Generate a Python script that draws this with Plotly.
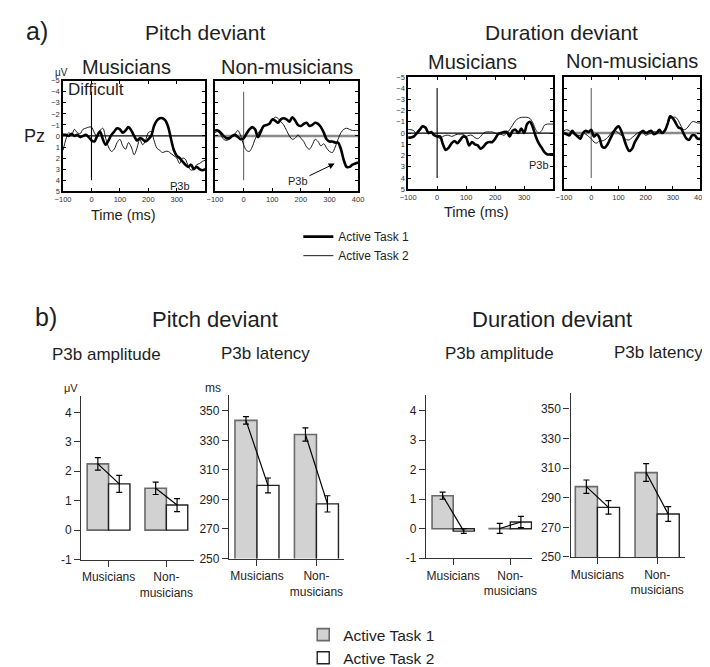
import plotly.graph_objects as go

W, H = 710, 667

# ---------------- DATA ----------------
time_ms = list(range(-100, 401, 10))

pitch_mus_task1 = [-0.1, -0.1, 0.0, -0.2, 0.0, -0.1, 0.1, 0.0, -0.1, 0.1,
                   0.4, 0.5, 0.0, -0.4, 0.3, 0.8, 0.4, -0.1, -0.4, -0.7,
                   -0.6, -0.3, -0.5, -0.8, -0.5, 0.0, 0.4, 0.2, 0.3, 0.5,
                   0.3, 0.0, -0.9, -1.4, -1.6, -1.6, -1.4, -0.8, 0.3, 1.3,
                   1.8, 2.0, 2.3, 2.6, 2.8, 2.6, 3.0, 2.8, 3.0, 3.1, 3.0]
pitch_mus_task2 = [1.3, 0.3, -0.3, -0.1, -0.6, -0.3, -0.2, -0.6, -0.7, -0.8,
                   -0.8, -0.3, 0.1, -0.5, -0.7, 0.2, 1.0, 1.4, 1.2, 0.6,
                   0.3, 0.9, 1.2, 0.6, 1.0, 1.7, 1.1, 0.3, 0.8, 0.4,
                   -0.3, -0.4, 0.4, 1.1, 1.3, 1.5, 1.4, 1.4, 1.6, 1.8,
                   2.0, 2.5, 2.0, 2.1, 2.7, 3.1, 3.0, 2.6, 2.5, 2.3, 2.2]
pitch_non_task1 = [-0.5, -0.5, -0.3, 0.0, 0.2, 0.2, 0.0, -0.1, 0.1, 0.3,
                   0.2, -0.2, -0.6, -0.8, -0.6, 0.1, -0.4, -0.9, -1.0, -1.1,
                   -1.5, -1.4, -1.2, -1.5, -1.6, -1.5, -1.3, -1.7, -1.4, -1.0,
                   -0.9, -1.1, -1.2, -0.9, -1.0, -1.2, -1.1, -0.8, -0.3, 0.3,
                   0.5, 0.5, 0.6, 0.6, 1.2, 2.2, 2.8, 2.8, 2.6, 2.5, 2.4]
pitch_non_task2 = [-0.3, -0.4, -0.1, 0.3, 0.4, 0.3, 0.1, -0.2, -0.5, 0.0,
                   0.8, 1.3, 1.4, 1.0, 0.3, -0.2, -0.6, -0.9, -1.0, -1.1,
                   -1.4, -1.7, -1.6, -1.3, -1.0, -0.5, 0.0, 0.3, 0.2, -0.1,
                   0.2, 0.5, 1.0, 1.2, 0.8, 0.3, 0.5, 0.9, 0.7, 1.1,
                   1.4, 1.5, 1.0, 0.3, -0.3, -0.6, -0.7, -0.6, -0.5, -0.5, -0.5]
dur_mus_task1 = [0.4, 0.4, 0.3, 0.0, -0.3, -0.6, -0.5, 0.0, -0.1, 0.2,
                 0.3, 0.3, 1.0, 1.5, 1.3, 0.9, 0.7, 0.9, 0.6, 0.3,
                 0.4, 1.1, 0.8, 1.0, 1.1, 1.4, 1.2, 0.9, 0.8, 0.8,
                 0.5, 0.1, 0.0, -0.1, -0.1, 0.3, -0.2, -0.3, 0.0, -0.4,
                 0.0, -0.8, -1.0, -0.5, 0.3, 0.9, 1.3, 1.7, 1.9, 1.9, 1.9]
dur_mus_task2 = [-0.3, -0.3, -0.2, 0.1, -0.2, -0.5, -0.4, -0.1, 0.0, 0.1,
                 0.3, 0.5, 0.3, 0.2, 0.2, 0.3, 0.2, 0.1, 0.1, 0.1,
                 0.3, 0.2, 0.2, 0.4, 0.5, 0.3, 0.0, -0.1, -0.1, -0.1,
                 0.0, 0.1, 0.1, 0.2, 0.0, -0.3, -0.7, -1.1, -1.3, -1.4,
                 -1.4, -1.4, -1.3, -0.9, -0.3, 0.0, -0.2, -0.7, -0.8, -0.8, -0.8]
dur_non_task1 = [0.0, 0.1, 0.2, -0.2, 0.1, 0.3, 0.5, 0.0, -0.2, -0.1,
                 -0.3, 0.3, 0.1, 0.4, 1.2, 1.3, 1.0, 0.5, 0.0, -0.4,
                 -0.6, -0.2, 0.5, 1.2, 1.6, 1.4, 0.8, 0.4, 0.0, -0.2,
                 0.0, -0.1, -0.2, 0.1, 0.0, -0.3, 0.0, -0.2, -0.8, -1.5,
                 -1.3, -0.9, -0.5, -0.4, 0.1, 0.5, 0.6, 0.2, 0.2, 0.5, 0.5]
dur_non_task2 = [-0.2, -0.3, -0.2, 0.0, 0.1, 0.2, 0.2, 0.0, 0.1, 0.3,
                 0.5, 0.8, 0.9, 0.7, 0.7, 0.6, 0.4, 0.1, -0.2, -0.2,
                 0.0, 0.2, 0.4, 0.6, 0.6, 0.4, 0.2, 0.0, -0.1, 0.0,
                 0.2, 0.1, 0.0, -0.1, -0.1, 0.0, 0.0, -0.3, -0.8, -1.3,
                 -1.4, -1.4, -1.1, -0.6, -0.3, -0.4, -0.7, -1.0, -1.0, -0.9, -0.9]

erp_yticks = [-5, -4, -3, -2, -1, 0, 1, 2, 3, 4, 5]
erp_xticks_mus = [-100, 0, 100, 200, 300]
erp_xticks_non = [-100, 0, 100, 200, 300, 400]

groups = ["Musicians", "Non-<br>musicians"]
pitch_amp_task1 = [2.25, 1.42]
pitch_amp_task1_err = [0.21, 0.21]
pitch_amp_task2 = [1.57, 0.85]
pitch_amp_task2_err = [0.29, 0.22]
pitch_lat_task1 = [343.5, 334.0]
pitch_lat_task1_err = [2.5, 4.5]
pitch_lat_task2 = [299.5, 287.0]
pitch_lat_task2_err = [5.0, 5.5]
dur_amp_task1 = [1.12, 0.01]
dur_amp_task1_err = [0.12, 0.17]
dur_amp_task2 = [-0.08, 0.23]
dur_amp_task2_err = [0.08, 0.19]
dur_lat_task1 = [297.5, 307.0]
dur_lat_task1_err = [4.5, 6.0]
dur_lat_task2 = [283.5, 279.0]
dur_lat_task2_err = [4.5, 5.0]

amp_ticks = [-1, 0, 1, 2, 3, 4]
lat_ticks = [250, 270, 290, 310, 330, 350]

# ---------------- STYLE / LAYOUT ----------------
FONT = "Liberation Sans, Arial, Helvetica, sans-serif"
TXT = "#1e1e1e"


def px(x):
    return x / W


def py(y):
    return 1 - y / H


def ax_names(n):
    return ("x" if n == 1 else f"x{n}", "y" if n == 1 else f"y{n}",
            "xaxis" if n == 1 else f"xaxis{n}", "yaxis" if n == 1 else f"yaxis{n}")


fig = go.Figure()
layout = dict(width=W, height=H, margin=dict(l=0, r=0, t=0, b=0),
              paper_bgcolor="white", plot_bgcolor="white",
              font=dict(family=FONT, color=TXT), barmode="overlay")
shapes = []
annotations = []

erp_panels = [
    dict(n=1, box=(48, 193, 71, 185), t1=pitch_mus_task1, t2=pitch_mus_task2, mus=True),
    dict(n=2, box=(203, 349, 71, 185), t1=pitch_non_task1, t2=pitch_non_task2, mus=False),
    dict(n=3, box=(400, 548, 67, 183), t1=dur_mus_task1, t2=dur_mus_task2, mus=True),
    dict(n=4, box=(559, 698, 67, 183), t1=dur_non_task1, t2=dur_non_task2, mus=False),
]

for p in erp_panels:
    n = p["n"]
    xa, ya, xk, yk = ax_names(n)
    x0, x1, y0, y1 = p["box"]
    fig.add_trace(go.Scatter(x=time_ms, y=p["t1"], mode="lines",
                             line=dict(color="black", width=2.6, shape="spline", smoothing=0.9),
                             name="Active Task 1", xaxis=xa, yaxis=ya,
                             showlegend=(n == 1), legend="legend"))
    fig.add_trace(go.Scatter(x=time_ms, y=p["t2"], mode="lines",
                             line=dict(color="black", width=0.9, shape="spline", smoothing=0.9),
                             name="Active Task 2", xaxis=xa, yaxis=ya,
                             showlegend=(n == 1), legend="legend"))
    xt = erp_xticks_mus if p["mus"] else erp_xticks_non
    layout[xk] = dict(domain=[px(x0), px(x1)], range=[-100, 400], anchor=ya,
                      showline=True, mirror="ticks", linecolor="black", linewidth=1.5,
                      ticks="inside", ticklen=3, tickcolor="black",
                      tickvals=xt, ticktext=[str(v).replace("-", "\u2212") for v in xt],
                      tickfont=dict(size=7.5, color="#333"),
                      showgrid=False, zeroline=False, fixedrange=True)
    layout[yk] = dict(domain=[py(y1), py(y0)], range=[5, -5], anchor=xa,
                      showline=True, mirror="ticks", linecolor="black", linewidth=1.5,
                      ticks="inside", ticklen=3, tickcolor="black",
                      tickvals=erp_yticks,
                      ticktext=[str(v).replace("-", "\u2212") for v in erp_yticks],
                      showticklabels=p["mus"], tickfont=dict(size=7.5, color="#333"),
                      showgrid=False, zeroline=False, fixedrange=True)
    zc = "black" if p["mus"] else "#8a8a8a"
    zw = 1.2 if p["mus"] else 2.4
    shapes.append(dict(type="line", xref=xa, yref=ya, x0=-100, x1=400, y0=0, y1=0,
                       line=dict(color=zc, width=zw), layer="below"))
    vc = "black" if p["mus"] else "#666"
    shapes.append(dict(type="line", xref=xa, yref=ya, x0=0, x1=0, y0=-4, y1=4,
                       line=dict(color=vc, width=1.1), layer="below"))

bar_panels = [
    dict(n=5, box=(66.7, 181.7, 396.7, 565.3), yr=[-1, 4.55], xr=[-0.47, 1.48], yt=amp_ticks,
         t1=pitch_amp_task1, e1=pitch_amp_task1_err, t2=pitch_amp_task2, e2=pitch_amp_task2_err),
    dict(n=6, box=(217.3, 335, 395, 564.3), yr=[250, 361], xr=[-0.47, 1.47], yt=lat_ticks,
         t1=pitch_lat_task1, e1=pitch_lat_task1_err, t2=pitch_lat_task2, e2=pitch_lat_task2_err),
    dict(n=7, box=(418.3, 526.7, 395, 564), yr=[-1, 4.55], xr=[-0.475, 1.385], yt=amp_ticks,
         t1=dur_amp_task1, e1=dur_amp_task1_err, t2=dur_amp_task2, e2=dur_amp_task2_err),
    dict(n=8, box=(565.7, 682.7, 393, 562.7), yr=[250, 361], xr=[-0.45, 1.47], yt=lat_ticks,
         t1=dur_lat_task1, e1=dur_lat_task1_err, t2=dur_lat_task2, e2=dur_lat_task2_err),
]
BW = 0.37
cats = list(range(len(groups)))
for p in bar_panels:
    n = p["n"]
    xa, ya, xk, yk = ax_names(n)
    x0, x1, y0, y1 = p["box"]
    xt1 = [c - BW / 2 for c in cats]
    xt2 = [c + BW / 2 for c in cats]
    fig.add_trace(go.Bar(x=xt1, y=p["t1"], width=BW, xaxis=xa, yaxis=ya,
                         marker=dict(color="#d2d2d2", line=dict(color="#6a6a6a", width=1.6)),
                         error_y=dict(type="data", array=p["e1"], color="black", thickness=1.2, width=3),
                         name="Active Task 1", legend="legend2", showlegend=(n == 5)))
    fig.add_trace(go.Bar(x=xt2, y=p["t2"], width=BW, xaxis=xa, yaxis=ya,
                         marker=dict(color="white", line=dict(color="#222", width=1.4)),
                         error_y=dict(type="data", array=p["e2"], color="black", thickness=1.2, width=3),
                         name="Active Task 2", legend="legend2", showlegend=(n == 5)))
    for c in cats:
        fig.add_trace(go.Scatter(x=[xt1[c], xt2[c]], y=[p["t1"][c], p["t2"][c]], mode="lines",
                                 line=dict(color="black", width=1.2), xaxis=xa, yaxis=ya,
                                 showlegend=False, hoverinfo="skip"))
    layout[xk] = dict(domain=[px(x0), px(x1)], range=p["xr"], anchor=ya,
                      showline=True, linecolor="#333", linewidth=1.4,
                      ticks="outside", ticklen=6, tickcolor="#333", tickangle=0,
                      tickvals=cats, ticktext=groups, tickfont=dict(size=12, color=TXT),
                      showgrid=False, zeroline=False, fixedrange=True)
    layout[yk] = dict(domain=[py(y1), py(y0)], range=p["yr"], anchor=xa,
                      showline=True, linecolor="#333", linewidth=1.4,
                      ticks="outside", ticklen=6, tickcolor="#333",
                      tickvals=p["yt"], ticktext=[str(v) for v in p["yt"]],
                      tickfont=dict(size=12, color=TXT),
                      showgrid=False, zeroline=False, fixedrange=True)


def ann(text, x, y, size, xanchor="center", yanchor="middle", color=TXT):
    annotations.append(dict(text=text, x=px(x), y=py(y), xref="paper", yref="paper",
                            showarrow=False, xanchor=xanchor, yanchor=yanchor,
                            font=dict(size=size, color=color, family=FONT)))


ann("a)", 8, 20, 25, xanchor="left")
ann("Pitch deviant", 193, 21, 21)
ann("Duration deviant", 556, 21, 21)
ann("Musicians", 113, 57, 20)
ann("Non-musicians", 276, 57, 20)
ann("Musicians", 466, 52, 20)
ann("Non-musicians", 628, 51, 20)
ann("\u03bcV", 46, 62, 10)
ann("Pz", 19, 128, 18)
ann("Difficult", 51, 80, 17, xanchor="left")
ann("P3b", 180, 180, 11, xanchor="right")
ann("P3b", 546, 158, 11, xanchor="right")
ann("Time (ms)", 110, 210, 14.5)
ann("Time (ms)", 470, 207, 14.5)
annotations.append(dict(text="P3b", xref="x2", yref="y2", x=318, y=2.5,
                        axref="x2", ayref="y2", ax=190, ay=4.1, showarrow=True,
                        arrowhead=2, arrowsize=1.2, arrowwidth=1, arrowcolor="black",
                        font=dict(size=11, color=TXT, family=FONT)))

ann("b)", 17, 315, 25, xanchor="left")
ann("Pitch deviant", 203, 317, 22)
ann("Duration deviant", 547, 318, 22)
ann("P3b amplitude", 92, 354, 17)
ann("P3b latency", 255, 353, 17)
ann("P3b amplitude", 493, 353, 17)
ann("P3b latency", 655, 352, 17)
ann("\u03bcV", 56, 388, 11)
ann("ms", 201, 388, 12)

layout["shapes"] = shapes
layout["annotations"] = annotations
layout["legend"] = dict(x=px(288), y=py(217), xanchor="left", yanchor="top",
                        font=dict(size=12, color=TXT, family=FONT), bgcolor="rgba(0,0,0,0)",
                        itemwidth=30, tracegroupgap=0)
layout["legend2"] = dict(x=px(293), y=py(626), xanchor="left", yanchor="top",
                         font=dict(size=15.5, color=TXT, family=FONT), bgcolor="rgba(0,0,0,0)",
                         itemwidth=30, tracegroupgap=0)
layout["showlegend"] = True

fig.update_layout(**layout)
fig.write_html("out.html")
